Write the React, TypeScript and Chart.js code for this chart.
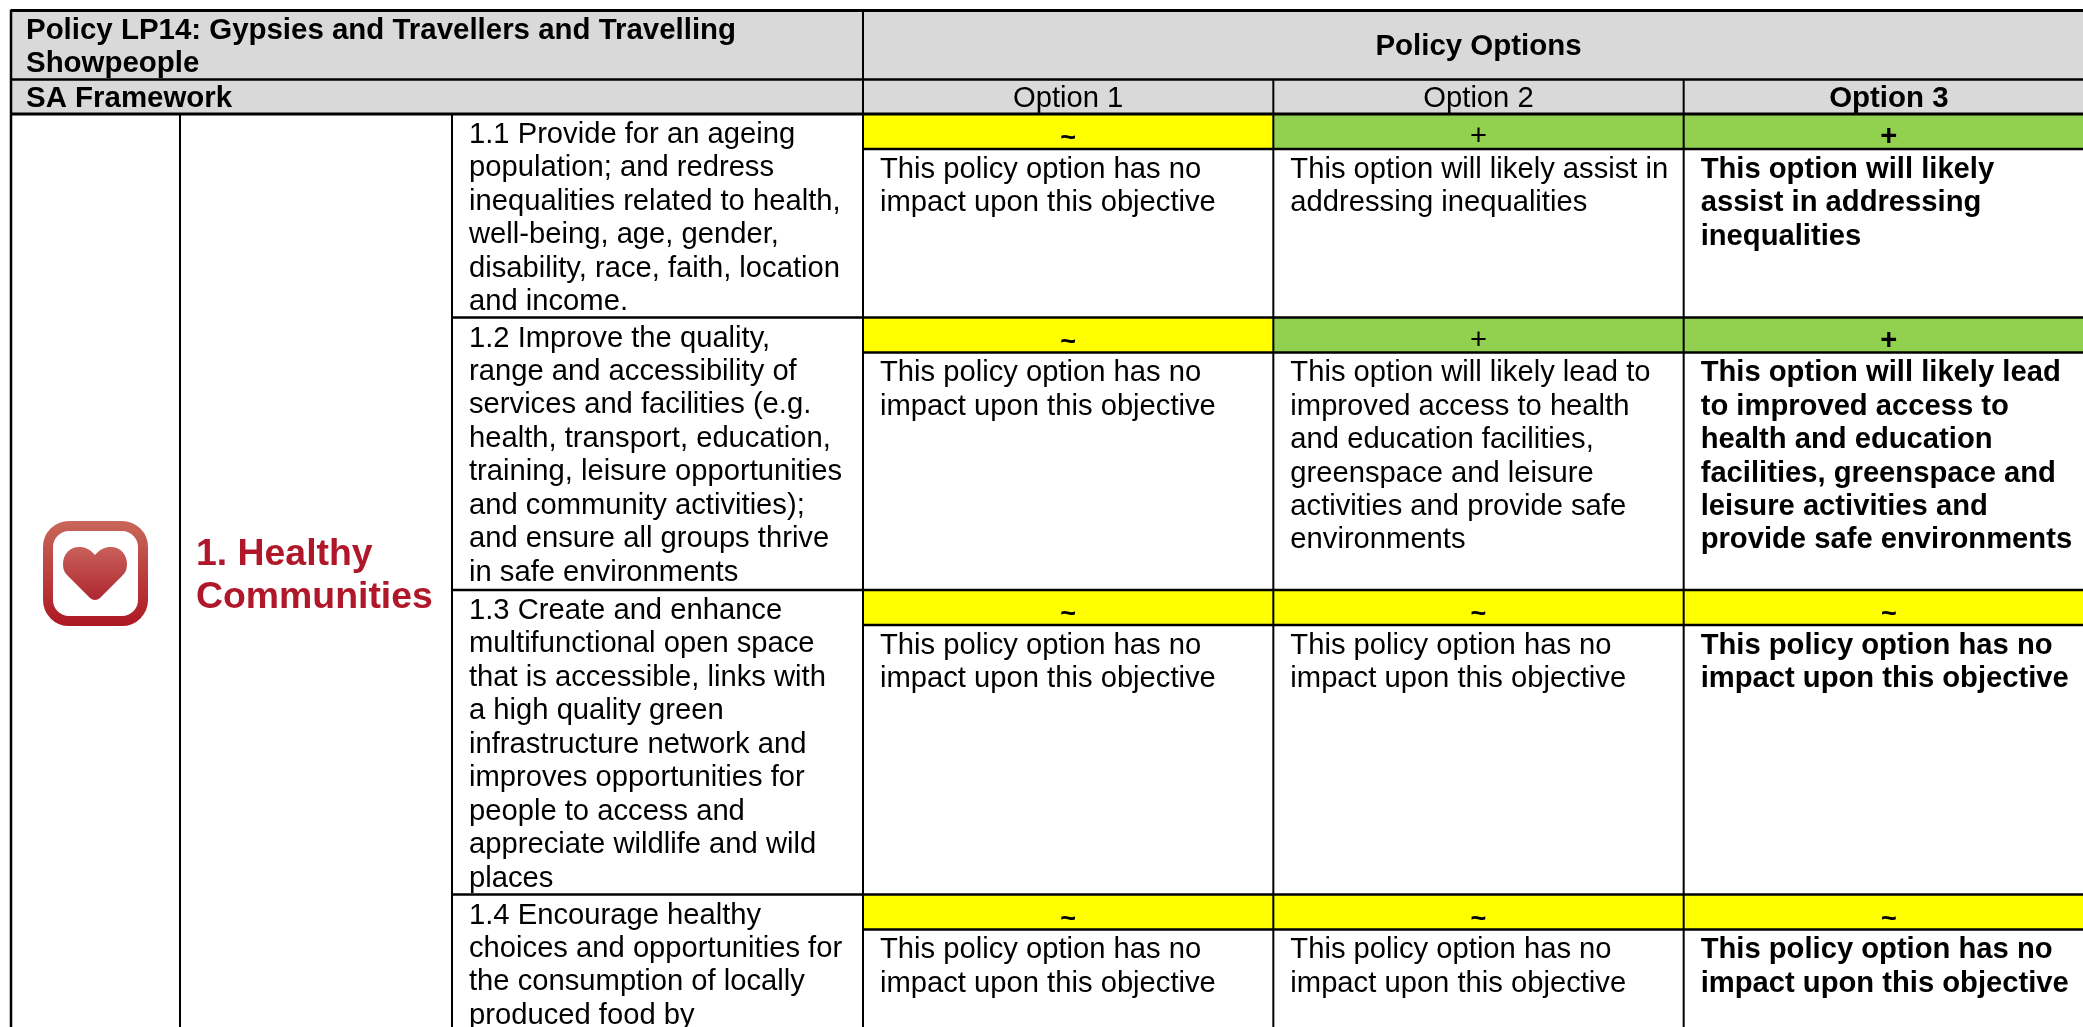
import React, { useEffect, useRef } from "react";
import { Chart, registerables } from "chart.js";

Chart.register(...registerables);

// ---- content ----
const policyTitle = ["Policy LP14: Gypsies and Travellers and Travelling", "Showpeople"];
const optionsTitle = "Policy Options";
const frameworkTitle = "SA Framework";
const themeTitle = ["1. Healthy", "Communities"];
const categories = ["Option 1", "Option 2", "Option 3"];

const ratingsOption1 = ["~", "~", "~", "~"];
const ratingsOption2 = ["+", "+", "~", "~"];
const ratingsOption3 = ["+", "+", "~", "~"];

const objectives = [
  ["1.1 Provide for an ageing", "population; and redress", "inequalities related to health,", "well-being, age, gender,", "disability, race, faith, location", "and income."],
  ["1.2 Improve the quality,", "range and accessibility of", "services and facilities (e.g.", "health, transport, education,", "training, leisure opportunities", "and community activities);", "and ensure all groups thrive", "in safe environments"],
  ["1.3 Create and enhance", "multifunctional open space", "that is accessible, links with", "a high quality green", "infrastructure network and", "improves opportunities for", "people to access and", "appreciate wildlife and wild", "places"],
  ["1.4 Encourage healthy", "choices and opportunities for", "the consumption of locally", "produced food by"],
];

const noImpact = ["This policy option has no", "impact upon this objective"];
const textsOption1 = [noImpact, noImpact, noImpact, noImpact];
const textsOption2 = [
  ["This option will likely assist in", "addressing inequalities"],
  ["This option will likely lead to", "improved access to health", "and education facilities,", "greenspace and leisure", "activities and provide safe", "environments"],
  noImpact,
  noImpact,
];
const textsOption3 = [
  ["This option will likely", "assist in addressing", "inequalities"],
  ["This option will likely lead", "to improved access to", "health and education", "facilities, greenspace and", "leisure activities and", "provide safe environments"],
  noImpact,
  noImpact,
];

// ---- layout (pixels on the y scale, which spans the page height) ----
const W = 2083;
const H = 1027;
const Y_TOP = 10.5;
const Y_HEAD = 79.5;
const Y_BODY = 114;
const rowTops = [114, 317.5, 590, 894.5];
const RATING_H = 35;
const X_LEFT = 11;
const X_ICON = 180;
const X_OBJ = 452;
const X_OPT = 863;
const OPT_W = 410.33;
const LINE = 33.45;
const FONT = '"Liberation Sans", Arial, sans-serif';
const SIZE = 29.2;
const HEAD_SIZE = 29.45;

const GREY = "#d9d9d9";
const YELLOW = "#ffff00";
const GREEN = "#92d050";
const colourOf = (r: string) => (r === "+" ? GREEN : YELLOW);

const ratingRows = [0, 1, 2, 3].map((i) => ({
  label: `Objective 1.${i + 1}`,
  data: categories.map(() => [rowTops[i], rowTops[i] + RATING_H]),
  backgroundColor: [ratingsOption1[i], ratingsOption2[i], ratingsOption3[i]].map(colourOf),
}));

function heartIcon(ctx: CanvasRenderingContext2D) {
  const g = ctx.createLinearGradient(0, 521, 0, 626);
  g.addColorStop(0, "#c9675a");
  g.addColorStop(1, "#ad1822");
  ctx.strokeStyle = g;
  ctx.lineWidth = 10;
  ctx.beginPath();
  ctx.roundRect(48, 526, 95, 95, 21);
  ctx.stroke();
  const h = ctx.createLinearGradient(0, 547, 0, 600);
  h.addColorStop(0, "#c9605a");
  h.addColorStop(1, "#ae2730");
  ctx.fillStyle = h;
  ctx.beginPath();
  ctx.moveTo(95, 555);
  ctx.bezierCurveTo(89, 548, 84, 547, 79, 547);
  ctx.bezierCurveTo(70, 547, 63, 554, 63, 564);
  ctx.bezierCurveTo(63, 570, 65, 573, 68, 576);
  ctx.lineTo(90, 598);
  ctx.bezierCurveTo(93, 600.5, 97, 600.5, 100, 598);
  ctx.lineTo(122, 576);
  ctx.bezierCurveTo(125, 573, 127, 570, 127, 564);
  ctx.bezierCurveTo(127, 554, 120, 547, 111, 547);
  ctx.bezierCurveTo(106, 547, 101, 548, 95, 555);
  ctx.closePath();
  ctx.fill();
}

const tablePlugin = {
  id: "tableFrame",
  beforeDatasetsDraw(chart: any) {
    const ctx = chart.ctx as CanvasRenderingContext2D;
    ctx.save();
    ctx.fillStyle = "#ffffff";
    ctx.fillRect(0, 0, W + 20, H);
    ctx.fillStyle = GREY;
    ctx.fillRect(X_LEFT, Y_TOP, X_OPT - X_LEFT, Y_BODY - Y_TOP);
    ctx.restore();
  },
  afterDatasetsDraw(chart: any) {
    const ctx = chart.ctx as CanvasRenderingContext2D;
    const x = chart.scales.x;
    const y = chart.scales.y;
    const line = (x0: number, y0: number, x1: number, y1: number, w: number) => {
      ctx.lineWidth = w;
      ctx.beginPath();
      ctx.moveTo(x0, y0);
      ctx.lineTo(x1, y1);
      ctx.stroke();
    };
    const text = (s: string, px: number, py: number, font: string, align: CanvasTextAlign = "left") => {
      ctx.font = font;
      ctx.textAlign = align;
      ctx.textBaseline = "alphabetic";
      ctx.fillText(s, px, py);
    };
    const optEdge = (i: number) => x.getPixelForValue(i) - OPT_W / 2;
    const yPx = (v: number) => y.getPixelForValue(v);

    ctx.save();
    ctx.strokeStyle = "#000";
    ctx.fillStyle = "#000";
    // vertical rules
    line(X_LEFT, Y_TOP - 1, X_LEFT, H, 2.5);
    line(X_OPT, Y_TOP - 1, X_OPT, H, 2);
    line(X_ICON, Y_BODY, X_ICON, H, 2);
    line(X_OBJ, Y_BODY, X_OBJ, H, 2);
    for (const i of [1, 2]) line(optEdge(i), Y_HEAD, optEdge(i), H, 2);
    // horizontal rules
    line(X_LEFT, yPx(Y_TOP), W + 20, yPx(Y_TOP), 3);
    line(X_LEFT, yPx(Y_HEAD), W + 20, yPx(Y_HEAD), 2.5);
    line(X_LEFT, yPx(Y_BODY), W + 20, yPx(Y_BODY), 3);
    rowTops.forEach((t, i) => {
      if (i > 0) line(X_OBJ, yPx(t), W + 20, yPx(t), 2.5);
      line(X_OPT, yPx(t + RATING_H), W + 20, yPx(t + RATING_H), 2.5);
    });

    // headers
    const bold = `bold ${SIZE}px ${FONT}`;
    const reg = `${SIZE}px ${FONT}`;
    const headBold = `bold ${HEAD_SIZE}px ${FONT}`;
    text(policyTitle[0], 26, 39, headBold);
    text(policyTitle[1], 26, 72, headBold);
    text(frameworkTitle, 26, 107, headBold);
    text(optionsTitle, x.getPixelForValue(1), 55, headBold, "center");
    categories.forEach((c, i) => text(c, x.getPixelForValue(i), 107, i === 2 ? headBold : reg, "center"));

    // theme
    heartIcon(ctx);
    ctx.fillStyle = "#b0182a";
    text(themeTitle[0], 196, 565, `bold 37.4px ${FONT}`);
    text(themeTitle[1], 196, 608, `bold 37.4px ${FONT}`);
    ctx.fillStyle = "#000";

    // objective text and option cells
    const ratings = [ratingsOption1, ratingsOption2, ratingsOption3];
    const texts = [textsOption1, textsOption2, textsOption3];
    objectives.forEach((lines, r) => {
      const top = rowTops[r];
      lines.forEach((l, k) => text(l, 469, yPx(top + 29 + k * LINE), reg));
      categories.forEach((_, c) => {
        const font = c === 2 ? bold : reg;
        const mark = ratings[c][r];
        if (mark === "~") {
          text(mark, x.getPixelForValue(c), yPx(top + 32), `bold 27px ${FONT}`, "center");
        } else {
          text(mark, x.getPixelForValue(c), yPx(top + 31), font, "center");
        }
        texts[c][r].forEach((l, k) =>
          text(l, optEdge(c) + 17, yPx(top + 63.7 + k * LINE), font)
        );
      });
    });
    ctx.restore();
  },
};

export default function App() {
  const ref = useRef<HTMLCanvasElement | null>(null);
  useEffect(() => {
    const chart = new Chart(ref.current as HTMLCanvasElement, {
      type: "bar",
      data: {
        labels: categories,
        datasets: [
          { label: optionsTitle, data: categories.map(() => [Y_TOP, Y_HEAD]), backgroundColor: GREY },
          { label: frameworkTitle, data: categories.map(() => [Y_HEAD, Y_BODY]), backgroundColor: GREY },
          ...ratingRows,
        ] as any,
      },
      options: {
        animation: false,
        responsive: false,
        devicePixelRatio: 1,
        layout: { padding: { left: X_OPT, right: 0, top: 0, bottom: 0 } },
        plugins: { legend: { display: false }, tooltip: { enabled: false }, title: { display: false } },
        datasets: { bar: { grouped: false, barPercentage: 1, categoryPercentage: 1, borderWidth: 0 } },
        scales: {
          x: { type: "category", display: false, grid: { display: false } },
          y: { type: "linear", display: false, reverse: true, min: 0, max: H, grid: { display: false } },
        },
      } as any,
      plugins: [tablePlugin],
    });
    return () => chart.destroy();
  }, []);
  return (
    <div style={{ position: "fixed", left: 0, top: 0, width: W, height: H, overflow: "hidden", background: "#fff" }}>
      <canvas ref={ref} width={Math.round(X_OPT + 3 * OPT_W)} height={H} style={{ display: "block" }} />
    </div>
  );
}
